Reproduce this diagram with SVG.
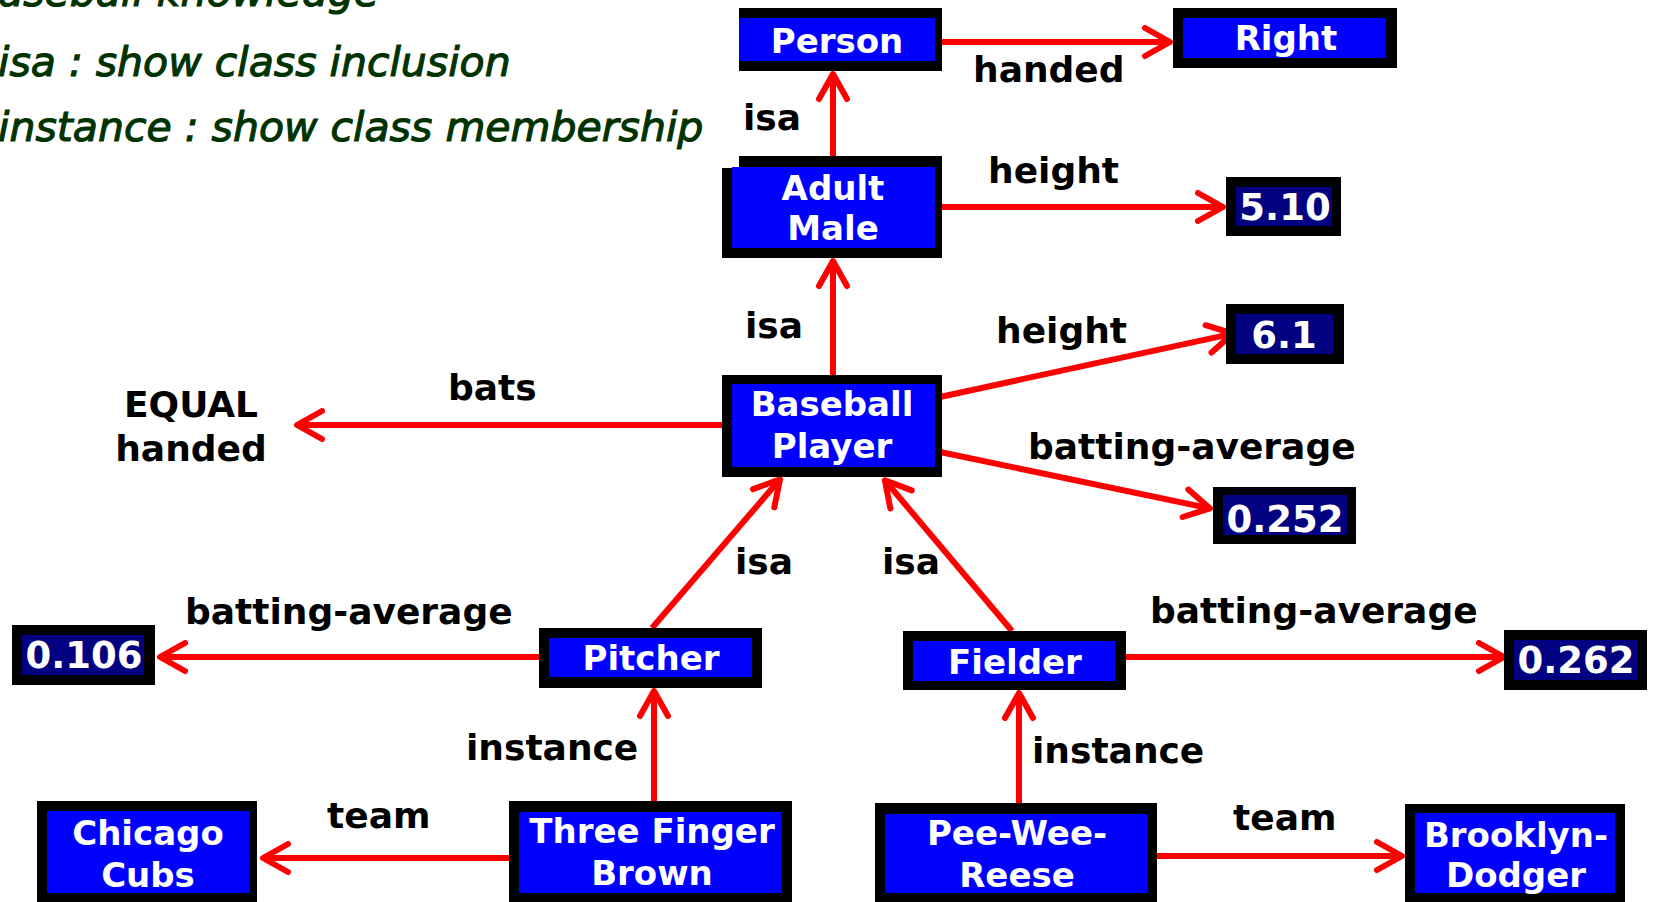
<svg xmlns="http://www.w3.org/2000/svg" width="1653" height="902" viewBox="0 0 1653 902">
<style>
  .bg{fill:#ffffff}
  .frame{fill:#000000}
  .cls{fill:#0000ff}
  .val{fill:#000080}
  .nt{font-family:"DejaVu Sans","Liberation Sans",sans-serif;font-weight:bold;font-size:34px;fill:#ffffff;text-anchor:middle}
  .vt{font-family:"DejaVu Sans","Liberation Sans",sans-serif;font-weight:bold;font-size:37px;fill:#ffffff;text-anchor:middle}
  .lbl{font-family:"DejaVu Sans","Liberation Sans",sans-serif;font-weight:bold;font-size:36px;fill:#000000}
  .leg{font-family:"DejaVu Sans","Liberation Sans",sans-serif;font-style:italic;font-size:41px;fill:#003300;stroke:#003300;stroke-width:1.1}
  .edge{stroke:#ff0000;stroke-width:6;fill:none;marker-end:url(#ah)}
</style>
<defs>
  <marker id="ah" markerUnits="userSpaceOnUse" markerWidth="44" markerHeight="44" viewBox="-34 -22 44 44" refX="0" refY="0" orient="auto">
    <path d="M-25,-14 L0,0 L-25,14" fill="none" stroke="#ff0000" stroke-width="6" stroke-linecap="round" stroke-linejoin="round"/>
  </marker>
</defs>
<rect class="bg" x="0" y="0" width="1653" height="902"/>

<g id="legend">
  <text class="leg" x="-30" y="6" font-size="43">Baseball knowledge</text>
  <text class="leg" x="-2" y="76">isa : show class inclusion</text>
  <text class="leg" x="-2" y="141">instance : show class membership</text>
</g>

<g id="connectors">
  <line class="edge" x1="942" y1="42" x2="1170" y2="42"/>
  <line class="edge" x1="833" y1="158" x2="833" y2="74"/>
  <line class="edge" x1="942" y1="207" x2="1223" y2="207"/>
  <line class="edge" x1="833" y1="375" x2="833" y2="261"/>
  <line class="edge" x1="940" y1="397" x2="1233" y2="333.6"/>
  <line class="edge" x1="940" y1="452" x2="1210" y2="508.4"/>
  <line class="edge" x1="722" y1="425" x2="297" y2="425"/>
  <line class="edge" x1="652" y1="628" x2="780" y2="479.3"/>
  <line class="edge" x1="1012" y1="631" x2="884.9" y2="480.3"/>
  <line class="edge" x1="539" y1="657" x2="160" y2="657"/>
  <line class="edge" x1="1126" y1="657" x2="1504" y2="657"/>
  <line class="edge" x1="654" y1="802" x2="654" y2="691"/>
  <line class="edge" x1="1019" y1="804" x2="1019" y2="693"/>
  <line class="edge" x1="509" y1="858" x2="263" y2="858"/>
  <line class="edge" x1="1157" y1="856" x2="1402" y2="856"/>
  <g id="edge-labels">
    <text class="lbl" x="973" y="82">handed</text>
    <text class="lbl" x="743" y="130">isa</text>
    <text class="lbl" x="988" y="183">height</text>
    <text class="lbl" x="745" y="338">isa</text>
    <text class="lbl" x="996" y="343">height</text>
    <text class="lbl" x="448" y="400">bats</text>
    <text class="lbl" x="1028" y="459">batting-average</text>
    <text class="lbl" x="735" y="574">isa</text>
    <text class="lbl" x="882" y="574">isa</text>
    <text class="lbl" x="185" y="624">batting-average</text>
    <text class="lbl" x="1150" y="623">batting-average</text>
    <text class="lbl" x="466" y="760">instance</text>
    <text class="lbl" x="1032" y="763">instance</text>
    <text class="lbl" x="327" y="828">team</text>
    <text class="lbl" x="1233" y="830">team</text>
  </g>
</g>

<g id="person">
  <rect class="frame" x="739" y="8" width="203" height="63"/>
  <rect class="cls" x="739" y="18" width="196" height="43"/>
  <text class="nt" x="837" y="53">Person</text>
</g>
<g id="right">
  <rect class="frame" x="1173" y="8" width="224" height="60"/>
  <rect class="cls" x="1183" y="18" width="203" height="40"/>
  <text class="nt" x="1286" y="50">Right</text>
</g>
<g id="adult-male">
  <path class="frame" d="M739,156 H942 V258 H722 V168 H739 Z"/>
  <rect class="cls" x="732" y="167" width="203" height="81"/>
  <text class="nt" x="833" y="200">Adult</text>
  <text class="nt" x="833" y="240">Male</text>
</g>
<g id="v-510">
  <rect class="frame" x="1226" y="177" width="115" height="59"/>
  <rect class="val" x="1236" y="187" width="96" height="39"/>
  <text class="vt" x="1285" y="220">5.10</text>
</g>
<g id="v-61">
  <rect class="frame" x="1226" y="304" width="118" height="60"/>
  <rect class="val" x="1236" y="314" width="97" height="40"/>
  <text class="vt" x="1284" y="348">6.1</text>
</g>
<g id="baseball-player">
  <rect class="frame" x="722" y="375" width="220" height="102"/>
  <rect class="cls" x="732" y="384" width="203" height="83"/>
  <text class="nt" x="832" y="416">Baseball</text>
  <text class="nt" x="832" y="458">Player</text>
</g>
<g id="equal-handed">
  <text class="lbl" x="191" y="417" text-anchor="middle">EQUAL</text>
  <text class="lbl" x="191" y="461" text-anchor="middle">handed</text>
</g>
<g id="v-0252">
  <rect class="frame" x="1213" y="487" width="143" height="57"/>
  <rect class="val" x="1223" y="495" width="124" height="40"/>
  <text class="vt" x="1285" y="532">0.252</text>
</g>
<g id="v-0106">
  <rect class="frame" x="12" y="625" width="143" height="60"/>
  <rect class="val" x="22" y="635" width="122" height="40"/>
  <text class="vt" x="84" y="668">0.106</text>
</g>
<g id="pitcher">
  <rect class="frame" x="539" y="628" width="223" height="60"/>
  <rect class="cls" x="549" y="638" width="203" height="39"/>
  <text class="nt" x="651" y="670">Pitcher</text>
</g>
<g id="fielder">
  <rect class="frame" x="903" y="631" width="223" height="59"/>
  <rect class="cls" x="913" y="641" width="202" height="40"/>
  <text class="nt" x="1015" y="674">Fielder</text>
</g>
<g id="v-0262">
  <rect class="frame" x="1504" y="630" width="143" height="60"/>
  <rect class="val" x="1514" y="640" width="123" height="40"/>
  <text class="vt" x="1576" y="673">0.262</text>
</g>
<g id="chicago-cubs">
  <rect class="frame" x="37" y="801" width="220" height="102"/>
  <rect class="cls" x="47" y="811" width="203" height="82"/>
  <text class="nt" x="148" y="845">Chicago</text>
  <text class="nt" x="148" y="887">Cubs</text>
</g>
<g id="three-finger-brown">
  <rect class="frame" x="509" y="801" width="283" height="102"/>
  <rect class="cls" x="519" y="812" width="263" height="81"/>
  <text class="nt" x="652" y="843">Three Finger</text>
  <text class="nt" x="652" y="885">Brown</text>
</g>
<g id="pee-wee-reese">
  <rect class="frame" x="875" y="803" width="282" height="100"/>
  <rect class="cls" x="885" y="814" width="263" height="79"/>
  <text class="nt" x="1017" y="845">Pee-Wee-</text>
  <text class="nt" x="1017" y="887">Reese</text>
</g>
<g id="brooklyn-dodger">
  <rect class="frame" x="1405" y="804" width="220" height="99"/>
  <rect class="cls" x="1415" y="813" width="200" height="80"/>
  <text class="nt" x="1516" y="847">Brooklyn-</text>
  <text class="nt" x="1516" y="887">Dodger</text>
</g>
</svg>
